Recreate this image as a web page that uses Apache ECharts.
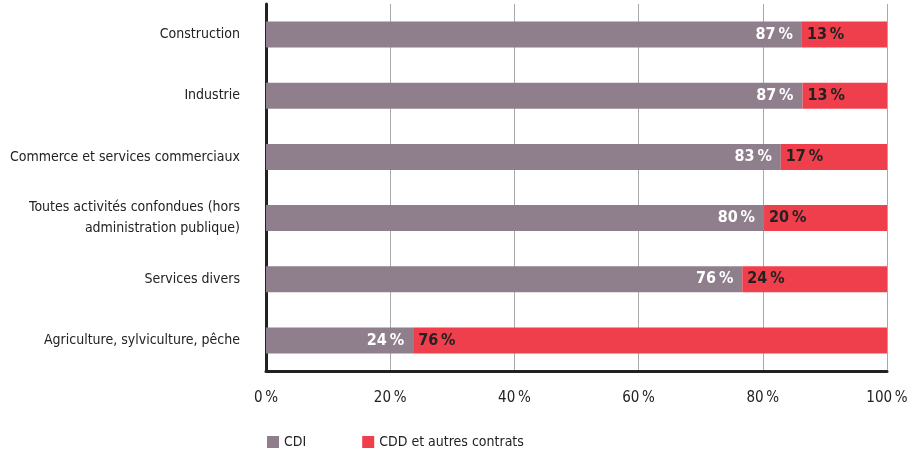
<!DOCTYPE html>
<html><head><meta charset="utf-8">
<script src="https://cdn.jsdelivr.net/npm/echarts@6/dist/echarts.min.js"></script>
<style>html,body{margin:0;padding:0;background:#fff}#c{width:924px;height:454px}</style>
</head><body><div id="c"></div>
<script>
const categories = ["Construction","Industrie","Commerce et services commerciaux","Toutes activités confondues (hors\nadministration publique)","Services divers","Agriculture, sylviculture, pêche"];
const cdiValues = [86.3, 86.4, 82.9, 80.2, 76.7, 23.7];
const cddValues = [13.7, 13.6, 17.1, 19.8, 23.3, 76.3];
const cdiLabels = [87, 87, 83, 80, 76, 24];
const cddLabels = [13, 13, 17, 20, 24, 76];
const xTicks = [0, 20, 40, 60, 80, 100];

const font = '"DejaVu Sans Condensed","Roboto",sans-serif';
const chart = echarts.init(document.getElementById('c'));
chart.setOption({
  animation: false,
  textStyle: {fontFamily: font},
  grid: {left: 266, top: 4, width: 621, height: 367, containLabel: false},
  legend: {
    bottom: 0, left: 262, itemWidth: 12, itemHeight: 12, itemGap: 56,
    icon: 'rect',
    textStyle: {fontFamily: font, fontSize: 14, color: '#222'},
    data: ['CDI', 'CDD et autres contrats']
  },
  xAxis: {
    type: 'value', min: 0, max: 100, interval: 20,
    axisLine: {show: true, onZero: false, lineStyle: {color: '#222', width: 3}},
    axisTick: {show: false},
    splitLine: {show: true, lineStyle: {color: '#a8a8a8', width: 1}},
    axisLabel: {margin: 20, fontFamily: font, fontSize: 15, color: '#222',
      formatter: v => xTicks.indexOf(v) >= 0 ? v + '\u202f%' : ''}
  },
  yAxis: {
    type: 'category', inverse: true, data: categories,
    axisLine: {show: true, lineStyle: {color: '#222', width: 3}},
    axisTick: {show: false},
    axisLabel: {margin: 26, fontFamily: font, fontSize: 14, color: '#222', lineHeight: 21, align: 'right'}
  },
  series: [
    {name: 'CDI', type: 'bar', stack: 's', barWidth: 26, data: cdiValues,
      itemStyle: {color: '#8f7f8c'},
      label: {show: true, position: 'insideRight', distance: 9, color: '#fff', fontWeight: 'bold',
        fontFamily: '"DejaVu Sans Condensed",sans-serif', fontSize: 16,
        formatter: p => cdiLabels[p.dataIndex] + '\u202f%'}},
    {name: 'CDD et autres contrats', type: 'bar', stack: 's', barWidth: 26, data: cddValues,
      itemStyle: {color: '#ef3f4c'},
      label: {show: true, position: 'insideLeft', distance: 5, color: '#222', fontWeight: 'bold',
        fontFamily: '"DejaVu Sans Condensed",sans-serif', fontSize: 16,
        formatter: p => cddLabels[p.dataIndex] + '\u202f%'}}
  ]
});
</script></body></html>
